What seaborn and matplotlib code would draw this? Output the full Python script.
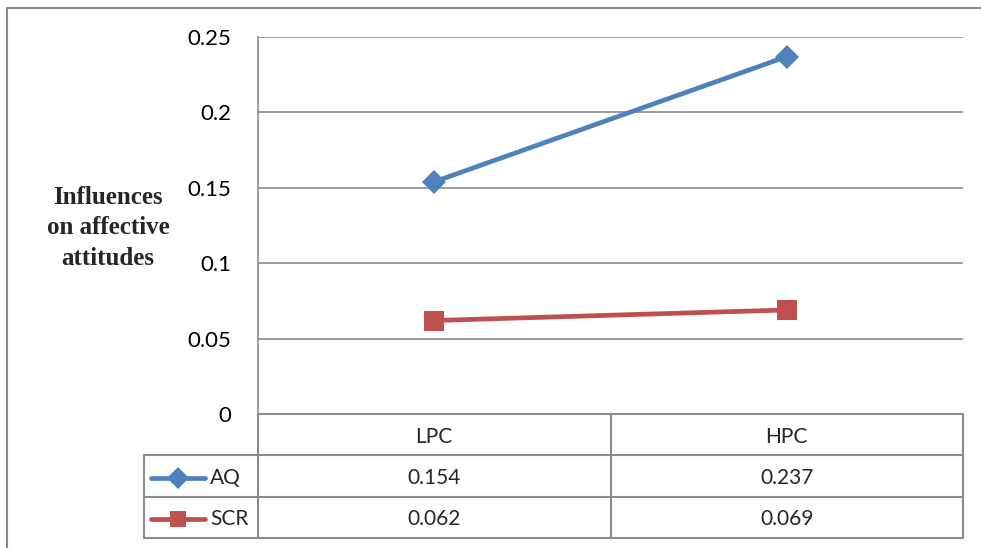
import pandas as pd
import matplotlib
matplotlib.use("Agg")
import matplotlib.pyplot as plt
from matplotlib.lines import Line2D
import seaborn as sns

# data
groups = ["LPC", "HPC"]
series = ["AQ", "SCR"]
aq_values = [0.154, 0.237]
scr_values = [0.062, 0.069]
y_ticks = [0, 0.05, 0.1, 0.15, 0.2, 0.25]
y_label = "Influences\non affective\nattitudes"

colors = {"AQ": "#4F81BD", "SCR": "#C0504D"}
markers = {"AQ": "D", "SCR": "s"}
marker_sizes = {"AQ": 12, "SCR": 14}
grid_col = "#8C8C8C"

df = pd.DataFrame({
    "pos": list(range(len(groups))) * 2,
    "value": aq_values + scr_values,
    "series": ["AQ"] * len(groups) + ["SCR"] * len(groups),
})

sns.set_style("white")
plt.rcParams["font.family"] = ["Lato", "DejaVu Sans"]

W, H = 981, 548
fig = plt.figure(figsize=(W / 100, H / 100), dpi=100)


def fx(px):
    return px / W


def fy(py):
    return 1 - py / H


# plot area
ax = fig.add_axes([fx(258), fy(414), (963 - 258) / W, (414 - 37) / H])
for name in series:
    sns.lineplot(data=df[df["series"] == name], x="pos", y="value",
                 color=colors[name], marker=markers[name], ax=ax,
                 linewidth=3.4, markersize=marker_sizes[name],
                 markeredgewidth=0)
ax.set_xlim(-0.5, len(groups) - 0.5)
ax.set_ylim(0, 0.25)
ax.set_yticks(y_ticks)
ax.set_yticklabels([f"{t:g}" for t in y_ticks])
ax.set_xticks([])
ax.set_xlabel("")
ax.set_ylabel("")
ax.tick_params(axis="y", length=0, pad=19, labelsize=16, colors="black")
ax.yaxis.grid(True, color=grid_col, linewidth=1.2)
ax.set_axisbelow(True)
for s in ["top", "right", "bottom"]:
    ax.spines[s].set_visible(False)
ax.spines["left"].set_color(grid_col)
ax.spines["left"].set_linewidth(1.2)

fig.text(fx(108), fy(228), y_label, ha="center", va="center",
         family="Liberation Serif", weight="bold", fontsize=18, linespacing=1.42)

# data table below the plot
unit = (963 - 258) / len(groups)


def tx(px):
    return -0.5 + (px - 258) / unit


tab = fig.add_axes([fx(144), fy(538), (963 - 144) / W, (538 - 414) / H])
x0 = tx(144)
tab.set_xlim(x0, len(groups) - 0.5)
tab.set_ylim(3, 0)
tab.axis("off")

lw = 1.5
for yy in [1, 2, 3]:
    tab.plot([x0, len(groups) - 0.5], [yy, yy], color=grid_col, lw=lw, clip_on=False)
tab.plot([-0.5, len(groups) - 0.5], [0, 0], color=grid_col, lw=lw, clip_on=False)
for xx in [-0.5 + i for i in range(len(groups) + 1)]:
    tab.plot([xx, xx], [0, 3], color=grid_col, lw=lw, clip_on=False)
tab.plot([x0, x0], [1, 3], color=grid_col, lw=lw, clip_on=False)

for i, g in enumerate(groups):
    tab.text(i, 0.55, g, ha="center", va="center", fontsize=15)

rows = {"AQ": aq_values, "SCR": scr_values}
key_sizes = {"AQ": 11, "SCR": 12}
for r, name in enumerate(series):
    yy = r + 1.55
    for i, v in enumerate(rows[name]):
        tab.text(i, yy, f"{v:.3f}", ha="center", va="center", fontsize=15)
    tab.add_line(Line2D([tx(151), tx(205)], [yy, yy], color=colors[name],
                        lw=3.4, solid_capstyle="round", clip_on=False))
    tab.plot([tx(178)], [yy], marker=markers[name], color=colors[name],
             markersize=key_sizes[name], markeredgewidth=0, clip_on=False)
    tab.text(tx(210), yy, name, ha="left", va="center", fontsize=15)

# outer chart border (left and top visible)
fig.add_artist(Line2D([fx(6.5), fx(6.5)], [fy(8), 0], color=grid_col, lw=1.5))
fig.add_artist(Line2D([fx(6.5), 1], [fy(8), fy(8)], color=grid_col, lw=1.5))

fig.savefig("out.png", dpi=100, facecolor="white")
